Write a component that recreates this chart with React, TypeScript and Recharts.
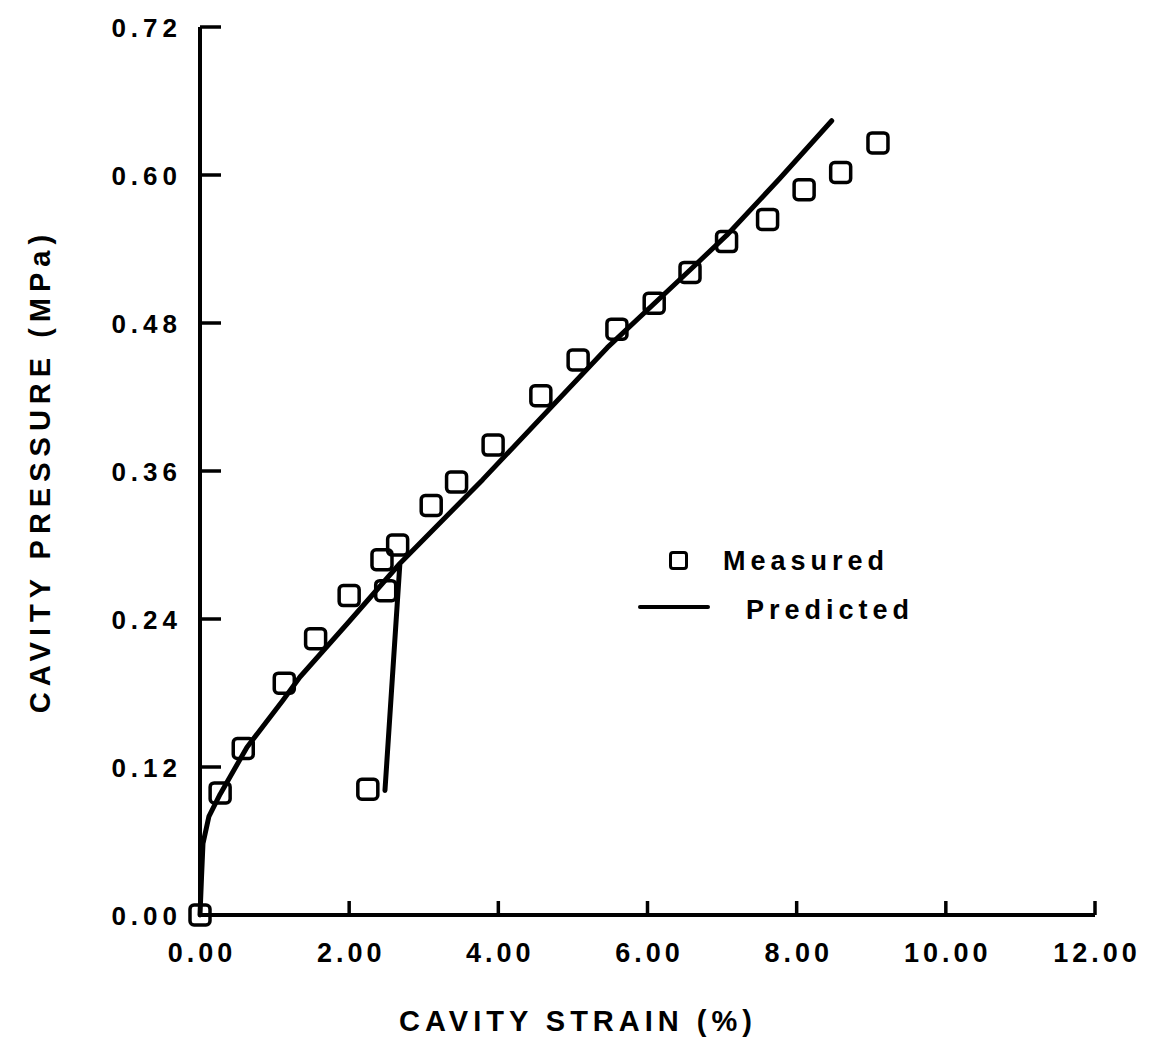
import React from "react";
import { ComposedChart, Line, Scatter, XAxis, YAxis, Label } from "recharts";

// measured cavity strain (%) vs cavity pressure (MPa)
const measuredStrain = [0, 0.27, 0.58, 1.13, 1.55, 2.0, 2.25, 2.44, 2.49, 2.65, 3.1, 3.44, 3.93, 4.57, 5.07, 5.59, 6.09, 6.57, 7.06, 7.61, 8.1, 8.59, 9.09];
const measuredPressure = [0, 0.099, 0.135, 0.188, 0.224, 0.259, 0.102, 0.288, 0.263, 0.3, 0.332, 0.351, 0.381, 0.421, 0.45, 0.475, 0.496, 0.521, 0.546, 0.564, 0.588, 0.602, 0.626];

// predicted path: loading, unload/reload loop, then continued loading
const predictedStrain = [0, 0.02, 0.04, 0.12, 0.27, 0.63, 1.11, 1.34, 2.0, 2.68, 2.48, 2.68, 3.79, 5.46, 6.57, 7.06, 7.77, 8.47];
const predictedPressure = [0, 0.03, 0.058, 0.08, 0.098, 0.136, 0.174, 0.193, 0.238, 0.285, 0.101, 0.285, 0.353, 0.46, 0.523, 0.551, 0.597, 0.644];

const xTicks = [0, 2, 4, 6, 8, 10, 12];
const yTicks = [0, 0.12, 0.24, 0.36, 0.48, 0.6, 0.72];

const measured = measuredStrain.map((x, i) => ({ x, y: measuredPressure[i] }));
const predicted = predictedStrain.map((x, i) => ({ x, y: predictedPressure[i] }));

const FONT = "'Liberation Sans', Arial, Helvetica, sans-serif";

const SquareMark = (props: any) => {
  const { cx, cy } = props;
  return <rect x={cx - 10} y={cy - 10} width={20} height={20} rx={4} fill="none" stroke="#000" strokeWidth={3.5} />;
};

const XTick = (props: any) => {
  const { x, y, payload } = props;
  return (
    <g>
      {payload.value !== 0 && <line x1={x} y1={y} x2={x} y2={y - 14} stroke="#000" strokeWidth={3.5} />}
      <text x={x + 2} y={y + 38} textAnchor="middle" dominantBaseline="central" fontFamily={FONT} fontWeight="bold" fontSize={27} letterSpacing={4} fill="#000">
        {payload.value.toFixed(2)}
      </text>
    </g>
  );
};

const YTick = (props: any) => {
  const { x, y, payload } = props;
  return (
    <g>
      {payload.value !== 0 && <line x1={x} y1={y} x2={x + 21} y2={y} stroke="#000" strokeWidth={3.5} />}
      <text x={x - 18} y={y + 1} textAnchor="end" dominantBaseline="central" fontFamily={FONT} fontWeight="bold" fontSize={26} letterSpacing={5} fill="#000">
        {payload.value.toFixed(2)}
      </text>
    </g>
  );
};

const LegendBox = () => (
  <div style={{ position: "absolute", left: 638, top: 546, width: 300, height: 90, fontFamily: FONT, fontWeight: "bold", fontSize: 27, letterSpacing: 5 }}>
    <div style={{ position: "absolute", left: 31, top: 5, width: 13, height: 13, border: "3.5px solid #000", borderRadius: 4 }} />
    <div style={{ position: "absolute", left: 85, top: 0, lineHeight: "30px" }}>Measured</div>
    <div style={{ position: "absolute", left: 0, top: 59, width: 72, height: 4, background: "#000", borderRadius: 2 }} />
    <div style={{ position: "absolute", left: 108, top: 49, lineHeight: "30px" }}>Predicted</div>
  </div>
);

export default function App() {
  return (
    <div style={{ position: "absolute", left: 0, top: 0, width: 1156, height: 1061, background: "#fff" }}>
      <ComposedChart width={1156} height={1061} margin={{ top: 27, right: 61, left: 0, bottom: 0 }}>
        <XAxis
          type="number"
          dataKey="x"
          domain={[0, 12]}
          ticks={xTicks}
          interval={0}
          height={146}
          tickSize={0}
          tickMargin={0}
          tickLine={false}
          axisLine={{ stroke: "#000", strokeWidth: 4 }}
          tick={<XTick />}
        >
          <Label
            content={(p: any) => (
              <text x={p.viewBox.x + 378} y={p.viewBox.y + 106} textAnchor="middle" dominantBaseline="central" fontFamily={FONT} fontWeight="bold" fontSize={29} letterSpacing={5} fill="#000">
                CAVITY STRAIN (%)
              </text>
            )}
          />
        </XAxis>
        <YAxis
          type="number"
          dataKey="y"
          domain={[0, 0.72]}
          ticks={yTicks}
          interval={0}
          width={200}
          tickSize={0}
          tickMargin={0}
          tickLine={false}
          axisLine={{ stroke: "#000", strokeWidth: 4 }}
          tick={<YTick />}
        >
          <Label
            content={(p: any) => {
              const cx = 40;
              const cy = p.viewBox.y + p.viewBox.height / 2;
              return (
                <text x={cx} y={cy} transform={`rotate(-90 ${cx} ${cy})`} textAnchor="middle" dominantBaseline="central" fontFamily={FONT} fontWeight="bold" fontSize={29} letterSpacing={6} fill="#000">
                  CAVITY PRESSURE (MPa)
                </text>
              );
            }}
          />
        </YAxis>
        <Line
          data={predicted}
          dataKey="y"
          name="Predicted"
          type="linear"
          stroke="#000"
          strokeWidth={5}
          strokeLinejoin="round"
          strokeLinecap="round"
          dot={false}
          activeDot={false}
          isAnimationActive={false}
        />
        <Scatter data={measured} dataKey="y" name="Measured" shape={<SquareMark />} isAnimationActive={false} />
      </ComposedChart>
      <LegendBox />
    </div>
  );
}
